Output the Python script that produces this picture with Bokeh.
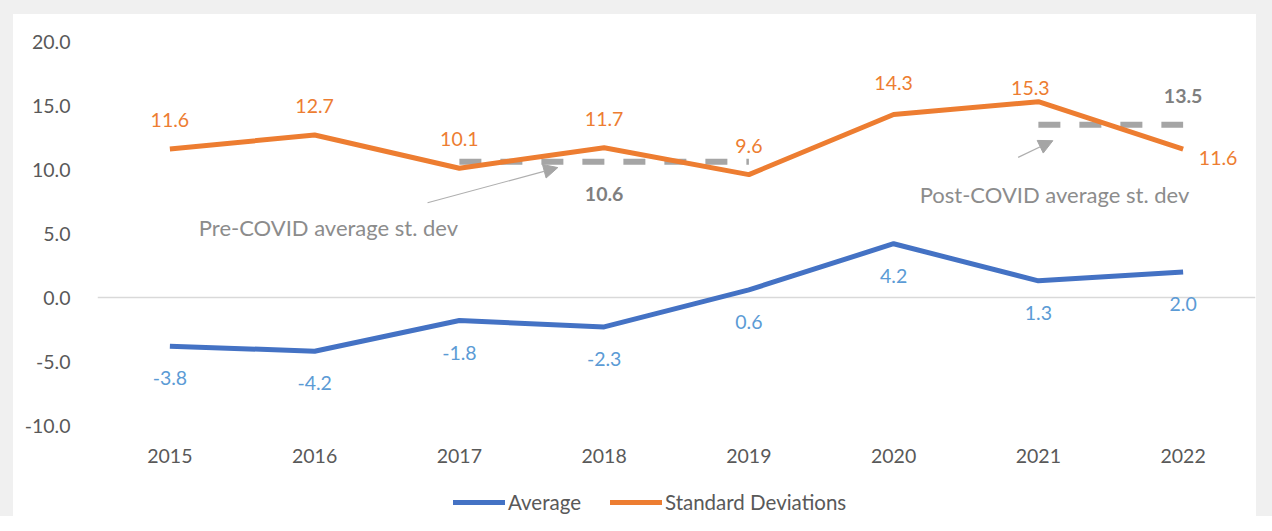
from bokeh.plotting import figure
from bokeh.layouts import column
from bokeh.models import (ColumnDataSource, FixedTicker, Legend, LegendItem, Arrow,
                          NormalHead, Label, Range1d)
from bokeh.embed import file_html
from bokeh.resources import INLINE

# ---- data ----
years = ["2015", "2016", "2017", "2018", "2019", "2020", "2021", "2022"]
average = [-3.8, -4.2, -1.8, -2.3, 0.6, 4.2, 1.3, 2.0]
std_dev = [11.6, 12.7, 10.1, 11.7, 9.6, 14.3, 15.3, 11.6]
pre_covid_years = ["2017", "2019"]
pre_covid_avg = 10.6
post_covid_years = ["2021", "2022"]
post_covid_avg = 13.5
y_ticks = [-10, -5, 0, 5, 10, 15, 20]
series_names = ["Average", "Standard Deviations"]

# ---- styles ----
ORANGE = "#ED7D31"
BLUE = "#4472C4"
BLUE_LBL = "#5B9BD5"
GRAY_DASH = "#A5A5A5"
AXIS_TXT = "#595959"
NOTE_TXT = "#8C8C8C"
BOLD_TXT = "#7F7F7F"
FONT = "Lato"
PAGE_BG = "#F0F0F0"

xs = [i + 0.5 for i in range(len(years))]
pos = {y: i + 0.5 for i, y in enumerate(years)}

p = figure(width=1243, height=456, output_backend="svg", toolbar_location=None,
           x_range=Range1d(0, len(years)), y_range=Range1d(-10, 20),
           min_border_left=84, min_border_right=1, min_border_top=27, min_border_bottom=45)
p.background_fill_color = "white"
p.border_fill_color = "white"
p.outline_line_color = None

# axes
p.xaxis.ticker = FixedTicker(ticks=xs)
p.xaxis.major_label_overrides = {x: y for x, y in zip(xs, years)}
p.yaxis.ticker = FixedTicker(ticks=y_ticks)
p.yaxis.major_label_overrides = {t: f"{t:.1f}" for t in y_ticks}
for ax in (p.xaxis, p.yaxis):
    ax.axis_line_color = None
    ax.major_tick_line_color = None
    ax.minor_tick_line_color = None
    ax.major_label_text_font = FONT
    ax.major_label_text_font_size = "19.5px"
    ax.major_label_text_color = AXIS_TXT
p.xaxis.major_label_standoff = 17
p.yaxis.major_label_standoff = 21
p.xgrid.visible = False
p.ygrid.ticker = FixedTicker(ticks=[0])
p.ygrid.grid_line_color = "#D9D9D9"
p.ygrid.grid_line_width = 1.5

# average lines (dashed)
p.line([pos[y] for y in pre_covid_years], [pre_covid_avg] * 2, line_color=GRAY_DASH,
       line_width=6, line_dash="22 19")
p.line([pos[y] for y in post_covid_years], [post_covid_avg] * 2, line_color=GRAY_DASH,
       line_width=6, line_dash="22 19")

# series
src = ColumnDataSource(dict(x=xs, avg=average, sd=std_dev,
                            avg_lbl=[f"{v:.1f}" for v in average],
                            sd_lbl=[f"{v:.1f}" for v in std_dev],
                            sd_xoff=[0, 0, 0, 0, 0, 0, -8, 35],
                            sd_yoff=[-29, -29, -29, -29, -29, -31, -14, 9]))
p.line("x", "avg", source=src, line_color=BLUE, line_width=5, line_join="round")
p.line("x", "sd", source=src, line_color=ORANGE, line_width=5, line_join="round")

# data labels
p.text("x", "sd", text="sd_lbl", source=src, x_offset="sd_xoff", y_offset="sd_yoff",
       text_align="center", text_baseline="middle", text_color=ORANGE,
       text_font={"value": FONT}, text_font_size="19.5px")
p.text("x", "avg", text="avg_lbl", source=src, y_offset=32,
       text_align="center", text_baseline="middle", text_color=BLUE_LBL,
       text_font={"value": FONT}, text_font_size="19.5px")

# average value labels
p.add_layout(Label(x=pos["2018"], y=pre_covid_avg, y_offset=-32, text=f"{pre_covid_avg:.1f}",
                   text_align="center", text_baseline="middle", text_color=BOLD_TXT,
                   text_font=FONT, text_font_size="19.5px", text_font_style="bold"))
p.add_layout(Label(x=pos["2022"], y=post_covid_avg, y_offset=29, text=f"{post_covid_avg:.1f}",
                   text_align="center", text_baseline="middle", text_color=BOLD_TXT,
                   text_font=FONT, text_font_size="19.5px", text_font_style="bold"))

# notes
p.add_layout(Label(x=pos["2015"] + 0.2, y=5.45, text="Pre-COVID average st. dev",
                   text_align="left", text_baseline="middle", text_color=NOTE_TXT,
                   text_font=FONT, text_font_size="22px"))
p.add_layout(Label(x=pos["2020"] + 0.18, y=8.05, text="Post-COVID average st. dev",
                   text_align="left", text_baseline="middle", text_color=NOTE_TXT,
                   text_font=FONT, text_font_size="22px"))

# arrows
head1 = NormalHead(size=14, fill_color=GRAY_DASH, line_color=GRAY_DASH)
p.add_layout(Arrow(end=head1, x_start=pos["2017"] - 0.22, y_start=7.4,
                   x_end=pos["2018"] - 0.32, y_end=10.15,
                   line_color="#AFAFAF", line_width=1.2))
head2 = NormalHead(size=14, fill_color=GRAY_DASH, line_color=GRAY_DASH)
p.add_layout(Arrow(end=head2, x_start=pos["2021"] - 0.14, y_start=10.95,
                   x_end=pos["2021"] + 0.10, y_end=12.25,
                   line_color="#AFAFAF", line_width=1.2))

# legend strip (separate small figure below the chart; its lines lie outside its view)
q = figure(width=1243, height=46, output_backend="svg", toolbar_location=None,
           x_range=Range1d(100, 101), y_range=Range1d(100, 101),
           min_border_left=0, min_border_right=0, min_border_top=0, min_border_bottom=0)
q.axis.visible = False
q.grid.visible = False
q.outline_line_color = None
q.background_fill_color = "white"
q.border_fill_color = "white"
la = q.line(xs, average, line_color=BLUE, line_width=5, line_cap="round")
ls = q.line(xs, std_dev, line_color=ORANGE, line_width=5, line_cap="round")
legend = Legend(items=[LegendItem(label=series_names[0], renderers=[la]),
                       LegendItem(label=series_names[1], renderers=[ls])],
                orientation="horizontal", location=(356, 2),
                glyph_width=52, glyph_height=20, label_standoff=3, spacing=29,
                padding=0, margin=0, border_line_color=None, background_fill_alpha=0,
                label_text_font=FONT, label_text_font_size="20.5px",
                label_text_color=AXIS_TXT)
q.add_layout(legend, "center")

layout = column(p, q, spacing=0,
                styles={"border-top": f"14px solid {PAGE_BG}",
                        "border-left": f"13px solid {PAGE_BG}",
                        "border-right": f"16px solid {PAGE_BG}",
                        "background-color": "white"})
open("out.html", "w").write(file_html(layout, INLINE))
